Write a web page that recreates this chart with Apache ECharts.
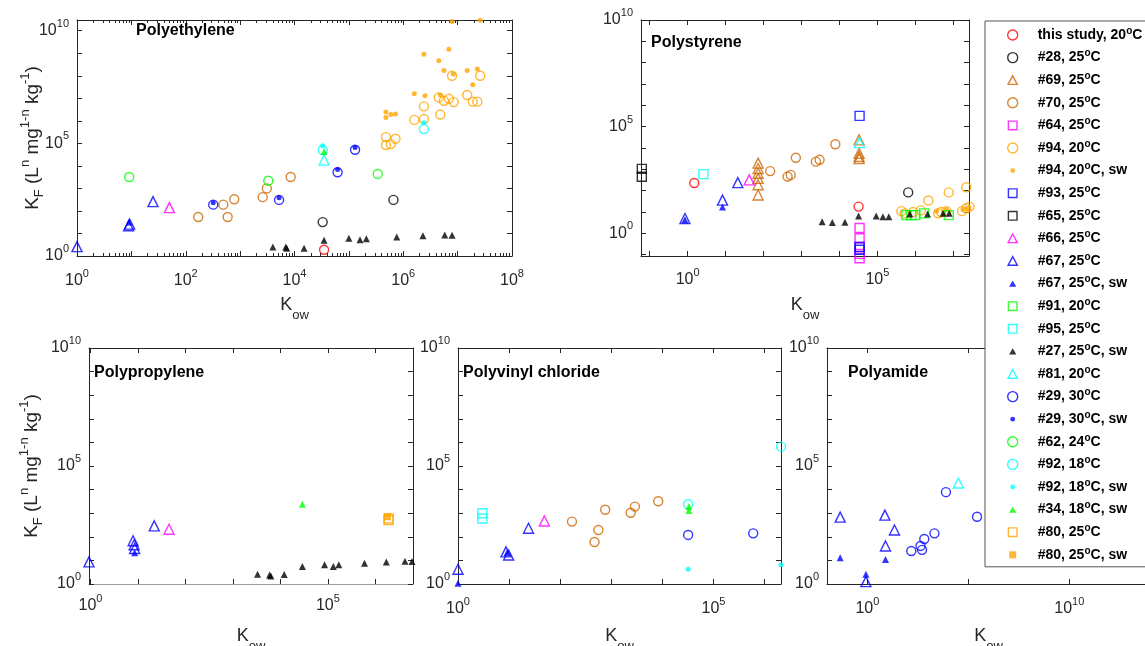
<!DOCTYPE html>
<html>
<head>
<meta charset="utf-8">
<script src="https://cdn.jsdelivr.net/npm/echarts@6/dist/echarts.min.js"></script>
<style>
  html, body { margin: 0; padding: 0; background: #fff; }
  #chart { width: 1145px; height: 646px; }
</style>
</head>
<body>
<div id="chart"></div>
<script>
// [Kow, KF] pairs, one array per source and panel

// Polyethylene
const peThisStudy = [[3.5e4, 1.9]]
const pe28 = [[3.3e4, 32], [6.6e5, 310]]
const pe70 = [[170, 54], [490, 190], [590, 54], [780, 330], [2600, 410], [3100, 1000], [8500, 3200]]
const pe94 = [[4.8e5, 1.9e5], [4.8e5, 8.5e4], [5.9e5, 9.3e4], [7.2e5, 1.6e5], [1.6e6, 1.1e6], [2.4e6, 4.4e6], [2.4e6, 1.2e6],
  [4.8e6, 1.9e6], [4.5e6, 1.1e7], [5.6e6, 7.8e6], [6.9e6, 9.5e6], [8.5e6, 6.8e6], [7.9e6, 1.0e8], [1.5e7, 1.4e7],
  [1.9e7, 7.1e6], [2.3e7, 7.1e6], [2.6e7, 1.0e8]]
const pe94sw = [[4.8e5, 2.5e6], [4.8e5, 1.4e6], [5.9e5, 1.9e6], [7.2e5, 2.0e6], [1.6e6, 1.6e7], [2.4e6, 9.1e8], [2.5e6, 1.3e7],
  [4.5e6, 4.7e8], [4.8e6, 1.4e7], [6.9e6, 1.5e9], [5.6e6, 1.7e8], [7.9e6, 2.6e10], [8.3e6, 1.2e8], [1.5e7, 1.7e8],
  [1.9e7, 4.0e7], [2.3e7, 2.0e8], [2.6e7, 2.9e10]]
const pe67 = [[1.0, 2.6], [8.9, 22], [9.3, 26], [25, 260]]
const pe67sw = [[9.1, 32]]
const pe66 = [[50, 140]]
const pe62 = [[9.1, 3200], [3300, 2200], [3.4e5, 4400]]
const pe29 = [[320, 190], [5200, 310], [6.2e4, 5200], [1.3e5, 5.2e4]]
const pe29sw = [[320, 230], [5200, 390], [6.2e4, 6900], [1.3e5, 6.5e4]]
const pe92 = [[3.3e4, 5.1e4], [2.4e6, 4.3e5]]
const pe92sw = [[3.3e4, 7.8e4], [2.4e6, 8.3e5]]
const pe81 = [[3.5e4, 1.8e4]]
const pe34sw = [[3.5e4, 4.4e4]]
const pe27sw = [[4000, 2.5], [6900, 2.5], [7200, 2.2], [1.5e4, 2.2], [3.5e4, 5.0], [1.0e5, 6.2], [1.6e5, 5.2], [2.1e5, 5.8],
  [7.6e5, 6.9], [2.3e6, 7.9], [5.8e6, 8.5], [7.9e6, 8.3]]

// Polystyrene
const psThisStudy = [[1.5, 230], [3.2e4, 18]]
const ps28 = [[6.5e5, 83]]
const ps69 = [[72, 1950], [72, 1100], [72, 660], [72, 380], [72, 190], [72, 63], [3.3e4, 2.4e4], [3.3e4, 5600], [3.3e4, 4000], [3.3e4, 3200]]
const ps70 = [[150, 830], [430, 460], [520, 550], [710, 3500], [2400, 2300], [3000, 2800], [7800, 1.5e4]]
const ps64 = [[3.4e4, 1.8], [3.4e4, 0.59], [3.4e4, 0.23], [3.4e4, 0.11], [3.4e4, 0.068]]
const ps94 = [[4.3e5, 11], [5.2e5, 8.7], [8.7e5, 10], [1.4e6, 12], [2.2e6, 35], [4.0e6, 8.7], [4.8e6, 10], [6.6e6, 11],
  [7.6e6, 83], [1.7e7, 11], [2.2e7, 15], [2.7e7, 18], [2.2e7, 145]]
const ps94sw = [[3.6e6, 11], [6.6e6, 13], [1.8e7, 13], [2.5e7, 16]]
const ps93 = [[3.4e4, 3.2e5], [3.4e4, 0.23], [3.4e4, 0.17]]
const ps65 = [[0.062, 1050], [0.062, 450]]
const ps66 = [[42, 320]]
const ps67 = [[0.85, 5.0], [8.3, 36], [21, 240]]
const ps67sw = [[0.85, 4.3], [8.3, 17]]
const ps91 = [[5.8e5, 7.2], [7.8e5, 7.2], [1.0e6, 7.2], [1.7e6, 8.7], [7.6e6, 7.2]]
const ps95 = [[2.6, 600]]
const ps27sw = [[3500, 3.5], [6500, 3.2], [1.4e4, 3.3], [3.2e4, 6.5], [9.3e4, 6.5], [1.4e5, 6.0], [2.0e5, 6.0], [7.1e5, 8.1],
  [2.1e6, 8.1], [5.4e6, 8.7], [7.8e6, 8.7]]
const ps81 = [[3.4e4, 1.8e4]]

// Polypropylene
const pp67 = [[0.93, 8.7], [7.9, 68], [8.3, 46], [8.5, 32], [22, 290]]
const pp67sw = [[8.5, 21]]
const pp66 = [[45, 210]]
const pp34sw = [[2.9e4, 2400]]
const pp80 = [[1.9e6, 600], [1.9e6, 510]]
const pp80sw = [[1.8e6, 710]]
const pp27sw = [[3300, 2.6], [5900, 2.4], [6300, 2.2], [1.2e4, 2.5], [2.9e4, 5.5], [8.5e4, 6.5], [1.3e5, 5.5], [1.7e5, 6.5],
  [5.9e5, 7.6], [1.7e6, 8.5], [4.2e6, 9.3], [5.9e6, 8.9]]

// Polyvinyl chloride
const pvc67 = [[1.0, 4.2], [8.7, 23], [9.8, 17], [24, 230]]
const pvc67sw = [[1.0, 1.07], [9.1, 21]]
const pvc95 = [[3.0, 1000], [3.0, 600]]
const pvc66 = [[49, 470]]
const pvc70 = [[170, 440], [470, 60], [560, 195], [760, 1400], [2400, 1050], [2900, 1900], [8300, 3200]]
const pvc92 = [[3.2e4, 2400], [2.1e6, 6.6e5]]
const pvc34sw = [[3.3e4, 1900], [3.3e4, 1300]]
const pvc29 = [[3.2e4, 120], [6.0e5, 140]]
const pvc92sw = [[3.2e4, 4.2], [2.1e6, 6.5]]

// Polyamide
const pa67 = [[0.045, 680], [0.85, 1.26], [7.4, 830], [7.9, 41], [22, 195]]
const pa67sw = [[0.045, 13], [0.85, 2.6], [7.9, 11]]
const pa29 = [[150, 25], [430, 41], [510, 28], [660, 81], [2100, 140], [7800, 7800], [2.7e5, 710]]
const pa81 = [[3.2e4, 1.9e4]]

// tick positions and labelled ticks
const decadeTicks = [1e-2, 1e-1, 1, 1e1, 1e2, 1e3, 1e4, 1e5, 1e6, 1e7, 1e8, 1e9, 1e10]
const paXTicks = [1, 1e5, 1e10]
const peXLabels = [1, 1e2, 1e4, 1e6, 1e8]
const midXLabels = [1, 1e5]
const paXLabels = [1, 1e10]
const yLabels = [1, 1e5, 1e10]

const FONT = 'Liberation Sans, Arial, Helvetica, sans-serif'
const AX = '#262626'

// legend marker icons (the corner moves keep every icon in a 10x10 box)
const dotIcon = 'path://M0,0M10,10M2.6,5A2.4,2.4,0,1,1,7.4,5A2.4,2.4,0,1,1,2.6,5Z'
const triIcon = 'path://M0,0M10,10M5,1.8L8.6,8.2L1.4,8.2Z'
const sqIcon = 'path://M0,0M10,10M1.5,1.5L8.5,1.5L8.5,8.5L1.5,8.5Z'
const openTriIcon = 'path://M0,0M10,10M5,0.6L9.6,9.2L0.4,9.2Z'
const openSqIcon = 'path://M0,0M10,10M0.7,0.7L9.3,0.7L9.3,9.3L0.7,9.3Z'

const styles = [
  { name: 'this study, 20°C', symbol: 'circle', color: '#FF0000', open: true, size: 9 },
  { name: '#28, 25°C', symbol: 'circle', color: '#000000', open: true, size: 9 },
  { name: '#69, 25°C', symbol: 'triangle', color: '#CC6600', open: true, size: 10, icon: openTriIcon },
  { name: '#70, 25°C', symbol: 'circle', color: '#CC6600', open: true, size: 9 },
  { name: '#64, 25°C', symbol: 'rect', color: '#FF00FF', open: true, size: 9, icon: openSqIcon },
  { name: '#94, 20°C', symbol: 'circle', color: '#FFA500', open: true, size: 9 },
  { name: '#94, 20°C, sw', symbol: 'circle', color: '#FFA500', open: false, size: 5, icon: dotIcon },
  { name: '#93, 25°C', symbol: 'rect', color: '#0000FF', open: true, size: 9, icon: openSqIcon },
  { name: '#65, 25°C', symbol: 'rect', color: '#000000', open: true, size: 9, icon: openSqIcon },
  { name: '#66, 25°C', symbol: 'triangle', color: '#FF00FF', open: true, size: 10, icon: openTriIcon },
  { name: '#67, 25°C', symbol: 'triangle', color: '#0000FF', open: true, size: 10, icon: openTriIcon },
  { name: '#67, 25°C, sw', symbol: 'triangle', color: '#0000FF', open: false, size: 7, icon: triIcon },
  { name: '#91, 20°C', symbol: 'rect', color: '#00FF00', open: true, size: 9, icon: openSqIcon },
  { name: '#95, 25°C', symbol: 'rect', color: '#00FFFF', open: true, size: 9, icon: openSqIcon },
  { name: '#27, 25°C, sw', symbol: 'triangle', color: '#000000', open: false, size: 7, icon: triIcon },
  { name: '#81, 20°C', symbol: 'triangle', color: '#00FFFF', open: true, size: 10, icon: openTriIcon },
  { name: '#29, 30°C', symbol: 'circle', color: '#0000FF', open: true, size: 9 },
  { name: '#29, 30°C, sw', symbol: 'circle', color: '#0000FF', open: false, size: 5, icon: dotIcon },
  { name: '#62, 24°C', symbol: 'circle', color: '#00FF00', open: true, size: 9 },
  { name: '#92, 18°C', symbol: 'circle', color: '#00FFFF', open: true, size: 9 },
  { name: '#92, 18°C, sw', symbol: 'circle', color: '#00FFFF', open: false, size: 5, icon: dotIcon },
  { name: '#34, 18°C, sw', symbol: 'triangle', color: '#00FF00', open: false, size: 7, icon: triIcon },
  { name: '#80, 25°C', symbol: 'rect', color: '#FFA500', open: true, size: 9, icon: openSqIcon },
  { name: '#80, 25°C, sw', symbol: 'rect', color: '#FFA500', open: false, size: 7, icon: sqIcon }
]

const panels = [
  {
    title: 'Polyethylene', titlePos: [136, 22],
    grid: { left: 77, top: 20, width: 435, height: 236 },
    x: [1, 1e8], y: [1, 3e10], xTicks: decadeTicks, xLabels: peXLabels, xMinor: true, yName: true, yNameGap: 35,
    xMargin: 17, nameGap: 40,
    data: {
      'this study, 20°C': peThisStudy, '#28, 25°C': pe28, '#70, 25°C': pe70, '#94, 20°C': pe94, '#94, 20°C, sw': pe94sw,
      '#66, 25°C': pe66, '#67, 25°C': pe67, '#67, 25°C, sw': pe67sw, '#27, 25°C, sw': pe27sw, '#81, 20°C': pe81,
      '#29, 30°C': pe29, '#29, 30°C, sw': pe29sw, '#62, 24°C': pe62, '#92, 18°C': pe92, '#92, 18°C, sw': pe92sw,
      '#34, 18°C, sw': pe34sw
    }
  },
  {
    title: 'Polystyrene', titlePos: [651, 34],
    grid: { left: 641, top: 20, width: 328, height: 236 },
    x: [0.059, 2.6e7], y: [0.087, 1e10], xTicks: decadeTicks, xLabels: midXLabels,
    xMargin: 16, nameGap: 40,
    data: {
      'this study, 20°C': psThisStudy, '#28, 25°C': ps28, '#69, 25°C': ps69, '#70, 25°C': ps70, '#64, 25°C': ps64,
      '#94, 20°C': ps94, '#94, 20°C, sw': ps94sw, '#93, 25°C': ps93, '#65, 25°C': ps65, '#66, 25°C': ps66,
      '#67, 25°C': ps67, '#67, 25°C, sw': ps67sw, '#91, 20°C': ps91, '#95, 25°C': ps95, '#27, 25°C, sw': ps27sw,
      '#81, 20°C': ps81
    }
  },
  {
    title: 'Polypropylene', titlePos: [94, 364],
    grid: { left: 89, top: 348, width: 324, height: 236 },
    x: [0.93, 6.2e6], y: [1, 1e10], xTicks: decadeTicks, xLabels: midXLabels, yName: true, yNameGap: 48, bottomColor: '#A0A0A0',
    xMargin: 14, nameGap: 43,
    data: {
      '#66, 25°C': pp66, '#67, 25°C': pp67, '#67, 25°C, sw': pp67sw, '#27, 25°C, sw': pp27sw,
      '#34, 18°C, sw': pp34sw, '#80, 25°C': pp80, '#80, 25°C, sw': pp80sw
    }
  },
  {
    title: 'Polyvinyl chloride', titlePos: [463, 364],
    grid: { left: 458, top: 348, width: 323, height: 236 },
    x: [1, 2.1e6], y: [1, 1e10], xTicks: decadeTicks, xLabels: midXLabels,
    xMargin: 17, nameGap: 43,
    data: {
      '#70, 25°C': pvc70, '#66, 25°C': pvc66, '#67, 25°C': pvc67, '#67, 25°C, sw': pvc67sw, '#95, 25°C': pvc95,
      '#29, 30°C': pvc29, '#92, 18°C': pvc92, '#92, 18°C, sw': pvc92sw, '#34, 18°C, sw': pvc34sw
    }
  },
  {
    title: 'Polyamide', titlePos: [848, 364],
    grid: { left: 827, top: 348, width: 323, height: 236 },
    x: [0.01, 1e14], y: [1, 1e10], xTicks: paXTicks, xLabels: paXLabels,
    xMargin: 17, nameGap: 43,
    data: {
      '#67, 25°C': pa67, '#67, 25°C, sw': pa67sw, '#81, 20°C': pa81, '#29, 30°C': pa29
    }
  }
]

const tickRich = {
  b: { fontSize: 16, lineHeight: 16, color: AX, fontFamily: FONT },
  s: { fontSize: 11, lineHeight: 11, color: AX, fontFamily: FONT, padding: [0, 0, 14, 0] }
}
const xNameRich = {
  k: { fontSize: 18, lineHeight: 18, color: AX, fontFamily: FONT },
  o: { fontSize: 13, lineHeight: 13, color: AX, fontFamily: FONT, padding: [20, 0, 0, 0] }
}
const yNameRich = {
  k: { fontSize: 19, lineHeight: 19, color: AX, fontFamily: FONT },
  f: { fontSize: 13, lineHeight: 13, color: AX, fontFamily: FONT, padding: [14, 0, 0, 0] },
  e: { fontSize: 13, lineHeight: 13, color: AX, fontFamily: FONT, padding: [0, 0, 15, 0] }
}

function decadeLabel(v) {
  return '{b|10}{s|' + Math.round(Math.log10(v)) + '}'
}

function baseAxis(i, range, ticks, pos, lineColor) {
  return {
    gridIndex: i,
    type: 'log',
    logBase: 10,
    position: pos,
    min: range[0],
    max: range[1],
    axisLine: { show: true, onZero: false, lineStyle: { color: lineColor || AX, width: 1 } },
    axisTick: { show: true, inside: true, length: 5, customValues: ticks, lineStyle: { color: AX } },
    splitLine: { show: false },
    minorSplitLine: { show: false }
  }
}

const xAxes = []
const yAxes = []
panels.forEach(function (p, i) {
  // only the polyethylene axis keeps the 2..9 minor ticks; its min is 1 so interval 1 counts from a decade
  const extra = p.xMinor
    ? { interval: 1, minorTick: { show: true, splitNumber: 9, length: 3, lineStyle: { color: AX } } }
    : { minorTick: { show: false } }
  xAxes.push(Object.assign(baseAxis(i, p.x, p.xTicks, 'bottom', p.bottomColor), extra, {
    axisLabel: { show: true, margin: p.xMargin, hideOverlap: false, customValues: p.xLabels, formatter: decadeLabel, rich: tickRich },
    name: '{k|K}{o|ow}',
    nameLocation: 'middle',
    nameGap: p.nameGap,
    nameMoveOverlap: false,
    nameTextStyle: { rich: xNameRich }
  }))
  xAxes.push(Object.assign(baseAxis(i, p.x, p.xTicks, 'top'), extra, {
    axisLabel: { show: false }
  }))
  const yMain = Object.assign(baseAxis(i, p.y, decadeTicks, 'left'), {
    axisLabel: { show: true, margin: 8, hideOverlap: false, customValues: yLabels, formatter: decadeLabel, rich: tickRich }
  })
  if (p.yName) {
    Object.assign(yMain, {
      name: '{k|K}{f|F}{k| (L}{e|n}{k| mg}{e|1-n}{k| kg}{e|-1}{k|)}',
      nameLocation: 'middle',
      nameRotate: 90,
      nameGap: p.yNameGap,
      nameMoveOverlap: false,
      nameTextStyle: { rich: yNameRich }
    })
  }
  yAxes.push(yMain)
  yAxes.push(Object.assign(baseAxis(i, p.y, decadeTicks, 'right'), { axisLabel: { show: false } }))
})

const series = []
panels.forEach(function (p, i) {
  styles.forEach(function (s) {
    const d = p.data[s.name]
    if (!d) return
    series.push({
      type: 'scatter',
      name: s.name,
      xAxisIndex: i * 2,
      yAxisIndex: i * 2,
      data: d,
      symbol: s.symbol,
      symbolSize: s.size,
      clip: false,
      silent: true,
      emphasis: { disabled: true },
      itemStyle: s.open
        ? { color: 'rgba(0,0,0,0)', borderColor: s.color, borderWidth: 1.4 }
        : { color: s.color, borderWidth: 0 }
    })
  })
})

const chart = echarts.init(document.getElementById('chart'), null, { renderer: 'canvas' })
chart.setOption({
  backgroundColor: '#ffffff',
  animation: false,
  textStyle: { fontFamily: FONT },
  title: panels.map(function (p) {
    return {
      text: p.title,
      left: p.titlePos[0],
      top: p.titlePos[1],
      padding: 0,
      textStyle: { fontSize: 16, fontWeight: 'bold', color: '#000', fontFamily: FONT, lineHeight: 18 }
    }
  }),
  grid: panels.map(function (p) {
    return Object.assign({ containLabel: false, outerBoundsMode: 'none' }, p.grid)
  }),
  xAxis: xAxes,
  yAxis: yAxes,
  legend: {
    show: true,
    orient: 'vertical',
    left: 985,
    top: 21,
    padding: [5, 40, 3, 22],
    itemWidth: 40,
    itemHeight: 10,
    itemGap: 4.6,
    symbolKeepAspect: true,
    selectedMode: false,
    borderColor: '#555',
    borderWidth: 1,
    backgroundColor: '#fff',
    itemStyle: { borderWidth: 1.4 },
    data: styles.map(function (s) {
      return s.icon ? { name: s.name, icon: s.icon } : { name: s.name }
    }),
    formatter: function (name) {
      const k = name.indexOf('°C')
      return '{t|' + name.slice(0, k) + '}{s|o}{t|C' + name.slice(k + 2) + '}'
    },
    textStyle: {
      rich: {
        t: { fontSize: 14, fontWeight: 'bold', color: '#000', fontFamily: FONT, lineHeight: 16 },
        s: { fontSize: 10, fontWeight: 'bold', color: '#000', fontFamily: FONT, lineHeight: 10, padding: [0, 0, 8, 0] }
      }
    }
  },
  series: series
})
</script>
</body>
</html>
